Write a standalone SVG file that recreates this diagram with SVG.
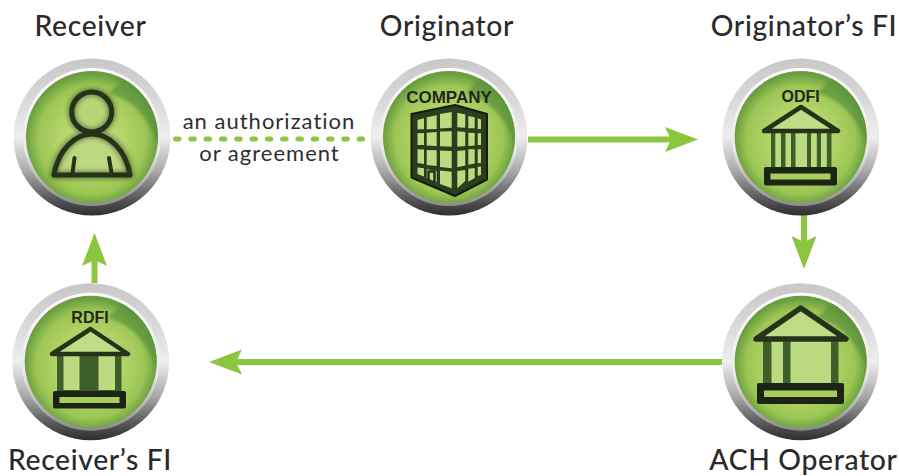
<svg xmlns="http://www.w3.org/2000/svg" xmlns:xlink="http://www.w3.org/1999/xlink" width="899" height="476" viewBox="0 0 899 476">
<style>
.title{font-family:"Lato","Liberation Sans",sans-serif;font-size:28.3px;font-weight:500;fill:#2a2a2a;text-anchor:middle;letter-spacing:.65px}
.edge{font-family:"Lato","Liberation Sans",sans-serif;font-size:22px;fill:#2f2f2f;text-anchor:middle;letter-spacing:1px}
.tag{font-family:"Liberation Sans",Arial,sans-serif;font-weight:700;fill:#24261e;text-anchor:middle}
.ln{fill:none;stroke:#24331a;stroke-linecap:round;stroke-linejoin:round}
.wall{fill:#3f5f2a;stroke:none}
.lt{fill:#bcdb80;stroke:none}
.roof{fill:#c0dc84;stroke:#24331a;stroke-linejoin:round;stroke-linecap:round}
.base{fill:#1c2416;stroke:none}
.strip{fill:#a8cf5e;stroke:none}
.shaft{fill:none;stroke:#8cc63f;stroke-width:6}
.head{fill:#8cc63f;stroke:none}
.dots{fill:none;stroke:#8cc63f;stroke-width:5;stroke-linecap:round;stroke-dasharray:3.5 11.8}
</style>
<defs>
<linearGradient id="rim" x1="0" y1="0" x2="0" y2="1">
<stop offset="0" stop-color="#c8c8c8"/><stop offset=".25" stop-color="#d8d8d8"/><stop offset=".5" stop-color="#eeeeee"/><stop offset=".72" stop-color="#a8a8a8"/><stop offset=".9" stop-color="#555"/><stop offset="1" stop-color="#2e2e2e"/>
</linearGradient>
<linearGradient id="rim2" x1="0" y1="0" x2="0" y2="1">
<stop offset="0" stop-color="#fff"/><stop offset=".6" stop-color="#e8e8e8"/><stop offset="1" stop-color="#8a8a8a"/>
</linearGradient>
<radialGradient id="face" cx=".5" cy=".52" r=".5">
<stop offset="0" stop-color="#c3dd8a"/><stop offset=".5" stop-color="#b2d468"/><stop offset=".82" stop-color="#9cc654"/><stop offset="1" stop-color="#6a9e40"/>
</radialGradient>
<filter id="glow" x="-30%" y="-30%" width="160%" height="160%"><feGaussianBlur stdDeviation="2"/></filter>
<filter id="soft" x="-10%" y="-10%" width="120%" height="120%"><feGaussianBlur stdDeviation=".7"/></filter>
<filter id="softer" x="-20%" y="-20%" width="140%" height="140%"><feGaussianBlur stdDeviation="1.500"/></filter>
<clipPath id="faceclip"><circle r="66"/></clipPath>
<g id="badge">
<circle r="78.500" fill="url(#rim)"/>
<circle r="69" fill="url(#rim2)"/>
<circle r="66" fill="url(#face)"/>
<g clip-path="url(#faceclip)"><path d="M17,-44L34,-62A66,66 0 0 1 68,16C62,-12 45,-36 17,-44Z" fill="#5c933d" opacity=".7" filter="url(#softer)"/></g>
</g>
<polygon id="ah" class="head" points="0,0 -33,-12.5 -27,0 -33,12.5"/>
</defs>
<rect width="899" height="476" fill="#fff"/>
<g id="connectors">
<path class="dots" d="M175.500,139H368"/>
<path class="shaft" d="M528,139.500H672"/>
<use xlink:href="#ah" href="#ah" transform="translate(698,139.500)"/>
<path class="shaft" d="M804,215V244"/>
<use xlink:href="#ah" href="#ah" transform="translate(804,269) rotate(90)"/>
<path class="shaft" d="M722,362H236"/>
<use xlink:href="#ah" href="#ah" transform="translate(209,362) rotate(180)"/>
<path class="shaft" d="M94.500,283V260"/>
<use xlink:href="#ah" href="#ah" transform="translate(94.500,233) rotate(-90)"/>
</g>
<g id="node-receiver">
<use xlink:href="#badge" href="#badge" transform="translate(92,137)"/>
<path d="M54,175C58,150 75,134 92,134C109,134 126,150 130,175Z" fill="#bcd97f"/>
<circle cx="91.700" cy="112" r="20" fill="#b6d574"/>
<g class="ln" stroke-width="8" opacity=".5" filter="url(#glow)"><circle cx="91.700" cy="112" r="20"/><path d="M54,175C58,150 75,134 92,134C109,134 126,150 130,175Z"/></g>
<g class="ln" stroke-width="5"><circle cx="91.700" cy="112" r="20"/><path d="M54,175C58,150 75,134 92,134C109,134 126,150 130,175Z"/></g>
<path class="ln" stroke-width="4" d="M74.500,158L72.500,173M109,158L111.500,173"/>
<text class="title" x="90.500" y="36">Receiver</text>
</g>
<g id="node-originator">
<use xlink:href="#badge" href="#badge" transform="translate(449,137)"/>
<text class="tag" x="449" y="103" font-size="17">COMPANY</text>
<path d="M411.500,114L455,105L487,114V179.500L455,196L411.500,177.500Z" fill="#2a3d1d" stroke="#141c10" stroke-width="2" stroke-linejoin="round"/>
<g class="lt" filter="url(#soft)">
<polygon points="417.500,120 424,118.300 424,129.300 417.500,129.300"/>
<polygon points="426.700,117.300 436.700,115.300 436.700,129 426.700,129.300"/>
<polygon points="440,114 451.700,112 451.700,127.700 440,128.500"/>
<polygon points="417.500,133.300 424,133 424,145 417.500,145"/>
<polygon points="426.700,132.700 436.700,132 436.700,146 426.700,145.500"/>
<polygon points="440,131.500 451.700,131.300 451.700,146.700 440,146.300"/>
<polygon points="417.500,149.300 424,149.500 424,164 417.500,163"/>
<polygon points="426.700,150 436.700,150.300 436.700,166 426.700,165"/>
<polygon points="440,150.500 451.700,151 451.700,168.300 440,167"/>
<polygon points="417.500,167.500 424,168.300 424,176.500 417.500,174"/>
<polygon points="436.700,171 436.700,182 426.700,178 426.700,169.300"/>
<polygon points="440,170.500 451.700,171.700 451.700,188.300 440,184"/>
<polygon points="457.300,112.700 465.300,114.500 465.300,127.700 457.300,127.300"/>
<polygon points="468.300,116 474.700,117.300 474.700,128.300 468.300,128.300"/>
<polygon points="477.700,118.300 481,119.500 481,129 477.700,129"/>
<polygon points="457.300,131.300 465.300,132 465.300,146 457.300,146.700"/>
<polygon points="468.300,132.700 474.700,133 474.700,145.500 468.300,146"/>
<polygon points="477.700,133.300 481,133.300 481,145 477.700,145"/>
<polygon points="457.300,151 465.300,150.300 465.300,165.500 457.300,167.300"/>
<polygon points="468.300,149.300 474.700,149.300 474.700,163.500 468.300,164.700"/>
<polygon points="477.700,149.300 481,149.300 481,163 477.700,163.300"/>
<polygon points="457.300,171 465.300,170 465.300,181 457.300,188.300"/>
<polygon points="468.300,168.700 474.700,168 474.700,178 468.300,181.700"/>
<polygon points="477.700,167 481,166.500 481,175 477.700,176"/>
</g>
<path class="ln" stroke-width="2.500" d="M428.500,179V171.500H434.500V181"/>
<text class="title" x="447" y="36">Originator</text>
</g>
<g id="node-odfi">
<use xlink:href="#badge" href="#badge" transform="translate(800.700,137)"/>
<text class="tag" x="800.700" y="102" font-size="16">ODFI</text>
<rect class="wall" x="771" y="131" width="60.500" height="38"/>
<g class="lt" filter="url(#soft)"><rect x="775.300" y="132" width="5.700" height="36"/><rect x="785.500" y="132" width="5.500" height="36"/><rect x="795.500" y="132" width="11.500" height="36"/><rect x="811" y="132" width="5.800" height="36"/><rect x="821" y="132" width="5.800" height="36"/></g>
<path class="roof" stroke-width="4.500" d="M764,131L801,107L838,131Z"/>
<rect class="base" x="764" y="167" width="73" height="18.500" rx="2"/>
<rect class="strip" x="770.500" y="173.500" width="60" height="6"/>
<text class="title" x="804" y="36">Originator’s FI</text>
</g>
<g id="node-ach">
<use xlink:href="#badge" href="#badge" transform="translate(800.700,361.700)"/>
<rect class="wall" x="763" y="339" width="75.500" height="46"/>
<g class="lt" filter="url(#soft)"><rect x="771.500" y="340" width="11.500" height="44"/><rect x="790.500" y="340" width="40.500" height="44"/></g>
<path class="roof" stroke-width="5.500" d="M756,339L800.700,308L846,339Z"/>
<rect class="base" x="757" y="383" width="87" height="21" rx="2"/>
<rect class="strip" x="764" y="390.500" width="73" height="6.500"/>
<text class="title" x="803.500" y="470">ACH Operator</text>
</g>
<g id="node-rdfi">
<use xlink:href="#badge" href="#badge" transform="translate(90.700,361.700)"/>
<text class="tag" x="90" y="323" font-size="16">RDFI</text>
<rect class="wall" x="57" y="354" width="64.500" height="38"/>
<g class="lt" filter="url(#soft)"><rect x="63.500" y="356" width="16" height="34"/><rect x="98.500" y="356" width="16.500" height="34"/></g>
<path class="roof" stroke-width="4.500" d="M52,354L90.500,329L128,354Z"/>
<rect class="base" x="53" y="391" width="73" height="17.500" rx="2"/>
<rect class="strip" x="59.500" y="397" width="60" height="6"/>
<text class="title" x="90" y="470">Receiver’s FI</text>
</g>
<g id="edge-label">
<text class="edge" x="269" y="129">an authorization</text>
<text class="edge" x="269.500" y="161">or agreement</text>
</g>
</svg>
